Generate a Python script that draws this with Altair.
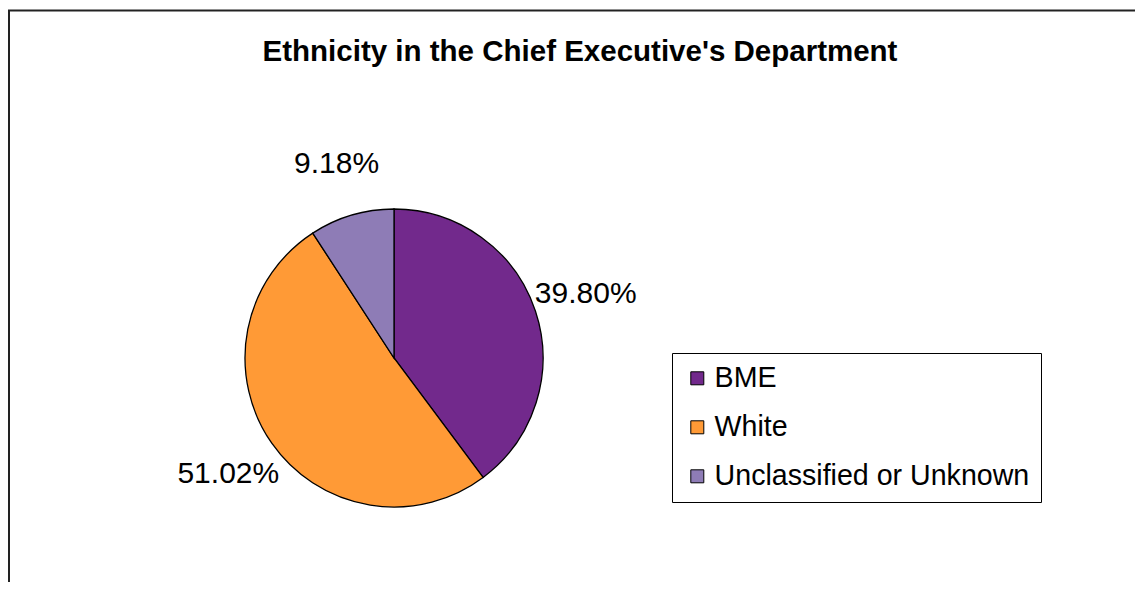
import altair as alt
import pandas as pd

categories = ["BME", "White", "Unclassified or Unknown"]
values = [39.80, 51.02, 9.18]
labels = ["39.80%", "51.02%", "9.18%"]
colors = ["#72298C", "#FF9A36", "#8E7CB6"]
title_text = "Ethnicity in the Chief Executive's Department"

df = pd.DataFrame({
    "category": categories,
    "value": values,
    "label": labels,
    "idx": list(range(len(categories))),
})

FONT = "Liberation Sans"
CX, CY = 386, 350

base = alt.Chart(df).encode(
    theta=alt.Theta("value:Q", stack=True),
    order=alt.Order("idx:Q"),
)

arc = base.mark_arc(outerRadius=149, stroke="black", strokeWidth=1.3).encode(
    x=alt.value(CX),
    y=alt.value(CY),
    color=alt.Color(
        "category:N",
        scale=alt.Scale(domain=categories, range=colors),
        legend=alt.Legend(
            title=None,
            orient="none",
            legendX=664,
            legendY=345,
            direction="vertical",
            symbolType="square",
            symbolSize=169,
            symbolStrokeColor="black",
            symbolStrokeWidth=1,
            labelFont=FONT,
            labelFontSize=28.6,
            labelColor="black",
            labelLimit=500,
            labelOffset=3,
            rowPadding=20,
            padding=11,
            strokeColor="black",
            fillColor="white",
        ),
    ),
)

text = base.mark_text(radius=202, fontSize=30, font=FONT, color="black").encode(
    x=alt.value(CX),
    y=alt.value(CY),
    text="label:N",
)

title = alt.Chart(pd.DataFrame({"t": [title_text]})).mark_text(
    fontSize=29.5, fontWeight="bold", font=FONT, color="black", baseline="alphabetic"
).encode(text="t:N", x=alt.value(572), y=alt.value(53))

frame_top = alt.Chart(pd.DataFrame({"a": [0]})).mark_rule(color="#222", strokeWidth=2).encode(
    x=alt.value(0), x2=alt.value(1127), y=alt.value(2.5)
)
frame_left = alt.Chart(pd.DataFrame({"a": [0]})).mark_rule(color="#222", strokeWidth=2).encode(
    x=alt.value(1), y=alt.value(2.5), y2=alt.value(574)
)

chart = alt.layer(frame_top, frame_left, arc, text, title).properties(
    width=1127, height=574, padding=0, autosize=alt.AutoSizeParams(type="none"),
    background="white",
).configure_view(stroke=None)

chart.save("out.html", embed_options={"renderer": "svg", "actions": False})
